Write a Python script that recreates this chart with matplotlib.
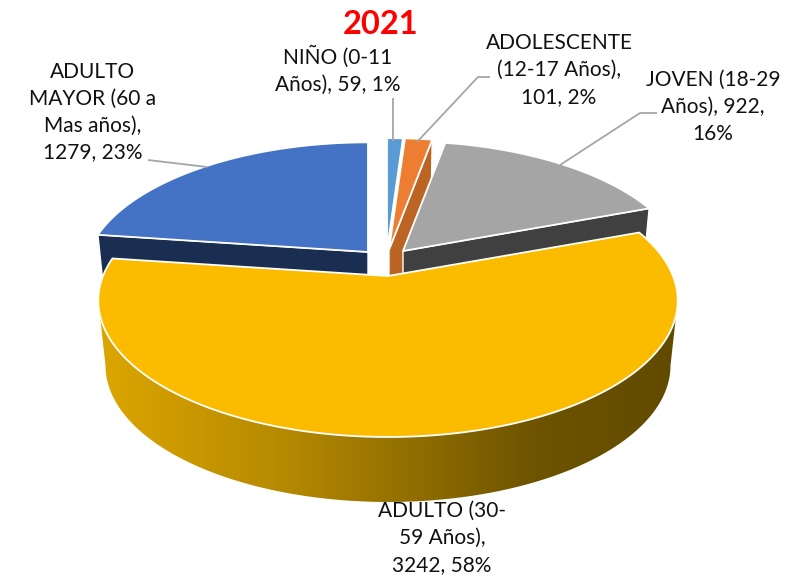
import numpy as np
import matplotlib
matplotlib.use("Agg")
import matplotlib.pyplot as plt
from matplotlib.colors import LinearSegmentedColormap
from matplotlib.patches import Polygon

# ---- data ----
categories = ["NIÑO (0-11 Años)", "ADOLESCENTE (12-17 Años)", "JOVEN (18-29 Años)",
              "ADULTO (30-59 Años)", "ADULTO MAYOR (60 a Mas años)"]
values = [59, 101, 922, 3242, 1279]
percent_labels = ["1%", "2%", "16%", "58%", "23%"]
title_text = "2021"
label_texts = ["NIÑO (0-11\nAños), 59, 1%",
               "ADOLESCENTE\n(12-17 Años),\n101, 2%",
               "JOVEN (18-29\nAños), 922,\n16%",
               "ADULTO (30-\n59 Años),\n3242, 58%",
               "ADULTO\nMAYOR (60 a\nMas años),\n1279, 23%"]

# ---- style / layout ----
top_colors = ["#5B9BD5", "#ED7D31", "#A5A5A5", "#FBBC00", "#4472C4"]
side_colors = ["#3E7CB5", "#BC6424", "#404040", None, "#1A2E52"]
centers = [(387, 250), (389, 250), (403, 251), (388, 276), (368, 252)]
radius_scales = [1.0, 1.0, 0.98, 1.0, 0.98]
label_pos = [(338, 70), (559, 70), (713, 107), (442, 538), (93, 112)]
leaders = [[(393, 98), (393, 141)],
           [(490, 77), (478, 77), (417, 142)],
           [(657, 113), (640, 113), (560, 165)],
           None,
           [(148, 160), (207, 167)]]
A, B, K = 285.0, 132.0, 0.18       # radius in x, radius in y, perspective
DEPTH, BOTTOM_SCALE = 65.0, 0.975
FONT = ["Lato", "DejaVu Sans"]

fig = plt.figure(figsize=(8.1, 5.8), dpi=100)
ax = fig.add_axes([0, 0, 1, 1])
ax.set_xlim(0, 810)
ax.set_ylim(580, 0)
ax.axis("off")

fractions = np.array(values, dtype=float) / np.sum(values)
edges = np.concatenate([[0], np.cumsum(fractions)]) * 2 * np.pi


def point(t, center, bottom=False, scale=1.0):
    """Project the rim point at clockwise angle t from the top."""
    X, Z = np.sin(t), np.cos(t)
    s = (BOTTOM_SCALE if bottom else 1.0) * scale
    x = center[0] + s * A * X / (1 + K * Z)
    y = center[1] - scale * B * Z / (1 + K * Z) + (DEPTH if bottom else 0.0)
    return np.column_stack([x, y])


def arc(t0, t1, center, bottom=False, scale=1.0):
    n = max(int(abs(t1 - t0) * 90), 2)
    return point(np.linspace(t0, t1, n), center, bottom, scale)


def cut_side(t, i, color, z):
    center, scale = centers[i], radius_scales[i]
    c_top = np.array(center, dtype=float)
    c_bot = c_top + [0, DEPTH]
    out_top = point(t, center, False, scale)[0]
    out_bot = point(t, center, True, scale)[0]
    ax.add_patch(Polygon([c_top, out_top, out_bot, c_bot], closed=True,
                         facecolor=color, edgecolor="white", lw=1.0, zorder=z))


def top_face(i, z):
    pts = np.vstack([[centers[i]], arc(edges[i], edges[i + 1], centers[i], False, radius_scales[i])])
    ax.add_patch(Polygon(pts, closed=True, facecolor=top_colors[i],
                         edgecolor="white", lw=1.3, zorder=z))


# cut faces of the slices behind the large one
cut_side(edges[2], 1, side_colors[1], 2)
cut_side(edges[3], 2, side_colors[2], 2)
cut_side(edges[4], 4, side_colors[4], 2)

# top faces
for i, z in [(0, 3), (1, 3), (2, 4), (4, 3)]:
    top_face(i, z)

# rim of the large slice, shaded left to right (from silhouette to silhouette)
t_right = np.pi - np.arccos(K)
t_left = np.pi + np.arccos(K)
rim = np.vstack([arc(t_right, t_left, centers[3]),
                 arc(t_left, t_right, centers[3], True)])
rim_patch = Polygon(rim, closed=True, facecolor="none", edgecolor="none", zorder=5)
ax.add_patch(rim_patch)
cmap = LinearSegmentedColormap.from_list(
    "rim", [(0.0, "#DCA600"), (0.3, "#B88B00"), (0.55, "#8F6D00"),
            (0.75, "#6E5400"), (1.0, "#614A00")])
img = ax.imshow(np.linspace(0, 1, 256)[None, :], cmap=cmap, aspect="auto",
                extent=(100, 678, 510, 220), zorder=5)
img.set_clip_path(rim_patch)
ax.set_xlim(0, 810)
ax.set_ylim(580, 0)

top_face(3, 6)

# leader lines
for seg in leaders:
    if seg is not None:
        xs, ys = zip(*seg)
        ax.plot(xs, ys, color="#A6A6A6", lw=1.3, zorder=7, solid_capstyle="butt")

# labels
for text, (x, y) in zip(label_texts, label_pos):
    ax.text(x, y, text, ha="center", va="center", fontsize=15, color="#111111",
            family=FONT, linespacing=1.42, zorder=8)

ax.text(381, 24, title_text, ha="center", va="center", fontsize=23.5, fontweight="bold",
        color="#FF0000", family=FONT, zorder=8)

fig.savefig("out.png", dpi=100)
